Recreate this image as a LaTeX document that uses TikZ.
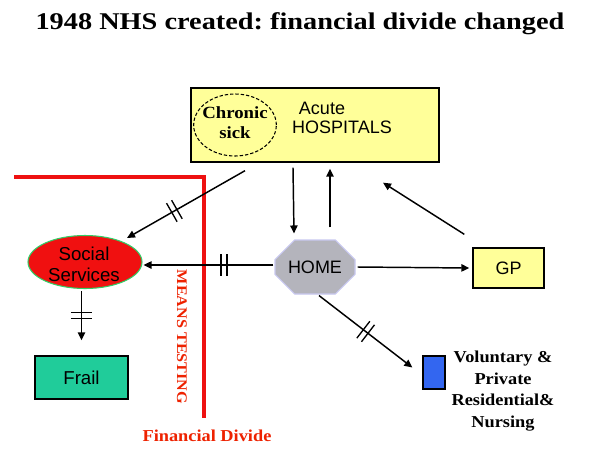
\documentclass[tikz,border=0pt]{standalone}
\usepackage{fontspec}
\setmainfont{Liberation Serif}
\setsansfont{Liberation Sans}
\newfontfamily\titlefont[FakeStretch=1.18]{Liberation Serif}
\newfontfamily\wideserif[FakeStretch=1.1]{Liberation Serif}
\usetikzlibrary{shapes.geometric,shapes.misc,arrows.meta,decorations.markings,calc}
\definecolor{hospY}{HTML}{FFFF99}
\definecolor{ssRed}{HTML}{F01010}
\definecolor{ssGreen}{HTML}{33CC66}
\definecolor{homeGray}{HTML}{B4B4BC}
\definecolor{homeEdge}{HTML}{C8C8F0}
\definecolor{frailTeal}{HTML}{20CC9A}
\definecolor{volBlue}{HTML}{3366F0}
\definecolor{divRed}{HTML}{EE1111}
\definecolor{txtRed}{HTML}{EE2200}
\begin{document}
\begin{tikzpicture}[x=0.75pt,y=-0.75pt,
  box/.style={draw=black, line width=1pt, inner sep=0pt},
  sanslabel/.style={font=\sffamily\fontsize{13.5}{16}\selectfont, inner sep=0pt},
  seriflabel/.style={font=\wideserif\bfseries\fontsize{12.5}{16.3}\selectfont, inner sep=0pt, align=center},
  arr/.style={line width=1.1pt, -{Triangle[length=6pt,width=5.5pt]}},
  brk/.style={postaction={decorate,decoration={markings,mark=at position #1 with {\draw[-,line width=1pt] (-2.2pt,-8pt)--(-2.2pt,8pt) (2.2pt,-8pt)--(2.2pt,8pt);}}}}
]
\useasboundingbox (0,0) rectangle (600,465);
\fill[white] (0,0) rectangle (600,465);

% title
\node[font=\titlefont\bfseries\fontsize{18}{21}\selectfont, inner sep=0pt] (title) at (300,24) {1948 NHS created:\ financial divide changed};

% financial divide line
\draw[divRed, line width=2.3pt] (14,177) -- (204,177) -- (204,418);
\node[rotate=-90, text=txtRed, font=\wideserif\bfseries\fontsize{11}{13}\selectfont, inner sep=0pt] (means) at (182,337) {MEANS TESTING};
\node[text=txtRed, font=\wideserif\bfseries\fontsize{12.5}{15}\selectfont, inner sep=0pt] (fdiv) at (207,436) {Financial Divide};

% hospitals
\node[box, fill=hospY, minimum width=186pt, minimum height=55.5pt] (hosp) at (315,125) {};
\node[draw=black, dashed, dash pattern=on 2.5pt off 1.5pt, line width=0.8pt, ellipse, minimum width=62pt, minimum height=46.5pt, inner sep=0pt] (chron) at (235,125) {};
\node[seriflabel, font=\wideserif\bfseries\fontsize{12.8}{15}\selectfont] (chrontxt) at (235,123) {Chronic\\sick};
\node[sanslabel] (acute) at (322,108) {Acute};
\node[sanslabel] (hosptxt) at (342,127) {HOSPITALS};

% social services
\node[ellipse, fill=ssRed, draw=ssGreen, line width=0.8pt, minimum width=85.5pt, minimum height=39.75pt, inner sep=0pt] (ss) at (85,262) {};
\node[sanslabel, font=\sffamily\fontsize{14}{15.8}\selectfont, align=center] (sstxt) at (84,264) {Social\\Services};

% home
\node[chamfered rectangle, chamfered rectangle xsep=11pt, chamfered rectangle ysep=10pt, fill=homeGray, draw=homeEdge, line width=0.8pt, minimum width=60pt, minimum height=40.5pt, inner sep=0pt, sanslabel] (home) at (315,267) {HOME};

% GP
\node[box, fill=hospY, minimum width=53.25pt, minimum height=30pt, sanslabel] (gp) at (508.5,268) {GP};

% Frail
\node[box, fill=frailTeal, minimum width=69.75pt, minimum height=32.25pt, sanslabel, font=\sffamily\fontsize{14}{15}\selectfont] (frail) at (81.5,377.5) {Frail};

% Voluntary
\node[box, fill=volBlue, minimum width=16.5pt, minimum height=24.75pt] (blue) at (434,372.5) {};
\node[seriflabel] (vol) at (503,391) {Voluntary \&\\Private\\Residential\&\\Nursing};

% connectors
\draw[arr, brk=0.6] ($(hosp.south)+(-70,8)$) -- ($(ss)+(42,-24)$);
\draw[arr] ($(hosp.south)+(-22,5)$) -- ($(home.north)+(-21,-6)$);
\draw[arr] ($(home.north)+(15,-12)$) -- ($(hosp.south)+(15,6)$);
\draw[arr] ($(gp.north west)+(-8,-13)$) -- ($(hosp.south)+(68,20)$);
\draw[arr] ($(home.east)+(2,0)$) -- ($(gp.west)+(-3,0)$);
\draw[arr, brk=0.38] ($(home.west)+(-1,-2)$) -- ($(home.west -| ss.east)+(1,-2)$);
\draw[arr, brk=0.5] ($(ss.south -| frail.north)+(0,2)$) -- ($(frail.north)+(0,-15)$);
\draw[arr, brk=0.5] ($(home.south)+(4,1)$) -- ($(blue.west)+(-10,-5)$);
\end{tikzpicture}
\end{document}
